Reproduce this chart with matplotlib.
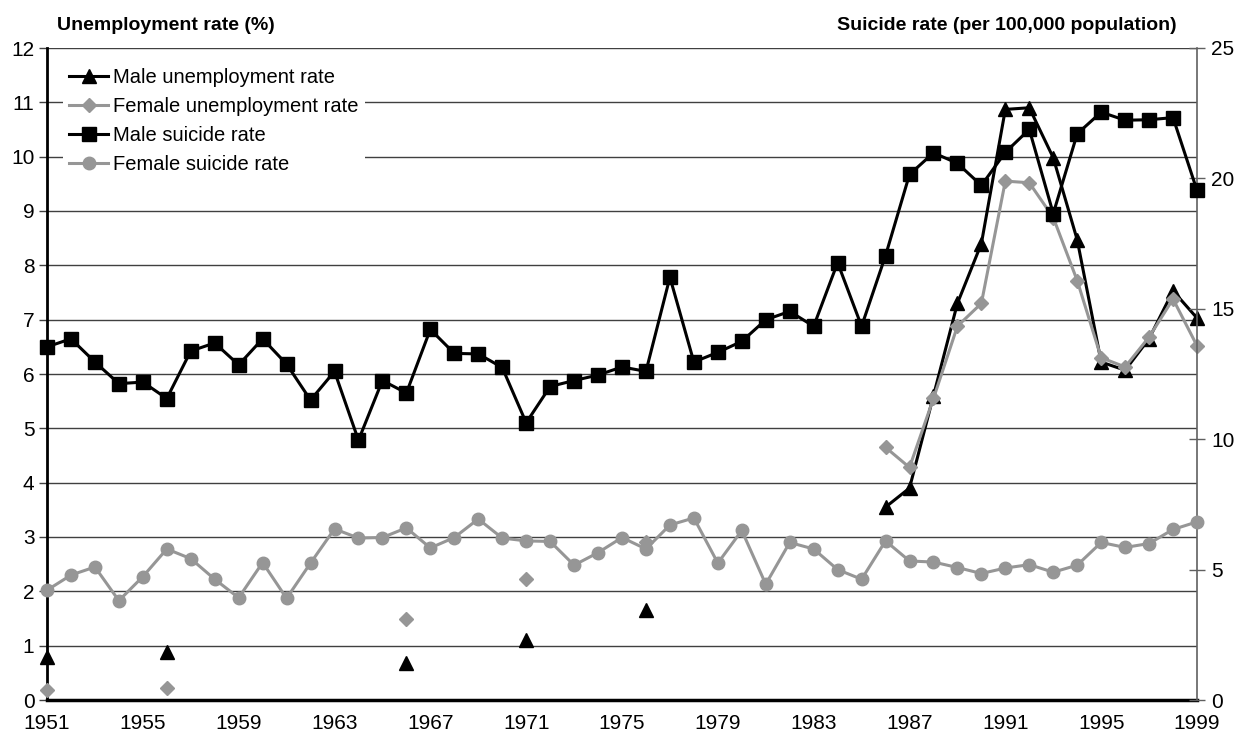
import numpy as np
import matplotlib
matplotlib.use("Agg")
import matplotlib.pyplot as plt

plt.rcParams['font.family'] = ['Liberation Sans', 'DejaVu Sans']
plt.rcParams['font.size'] = 14

nan = np.nan
years = np.arange(1951, 2000)

# unemployment rate (%), gaps where no figure was published
male_unemp = [0.8, nan, nan, nan, nan, 0.88, nan, nan, nan, nan,
              nan, nan, nan, nan, nan, 0.68, nan, nan, nan, nan,
              1.1, nan, nan, nan, nan, 1.65, nan, nan, nan, nan,
              nan, nan, nan, nan, nan, 3.55, 3.9, 5.6, 7.3, 8.4,
              10.87, 10.9, 9.98, 8.47, 6.22, 6.07, 6.65, 7.53, 7.03]
female_unemp = [0.18, nan, nan, nan, nan, 0.22, nan, nan, nan, nan,
                nan, nan, nan, nan, nan, 1.5, nan, nan, nan, nan,
                2.22, nan, nan, nan, nan, 2.91, nan, nan, nan, nan,
                nan, nan, nan, nan, nan, 4.65, 4.28, 5.55, 6.88, 7.3,
                9.55, 9.52, 8.88, 7.72, 6.3, 6.13, 6.68, 7.38, 6.52]

# suicide rate per 100,000
male_suicide = [13.54, 13.85, 12.96, 12.13, 12.19, 11.56, 13.38, 13.69, 12.85, 13.85,
                12.88, 11.5, 12.6, 9.96, 12.25, 11.77, 14.21, 13.29, 13.27, 12.75,
                10.63, 12.02, 12.25, 12.46, 12.77, 12.6, 16.21, 12.96, 13.33, 13.75,
                14.58, 14.9, 14.33, 16.77, 14.33, 17.04, 20.15, 20.98, 20.58, 19.73,
                21.0, 21.88, 18.65, 21.71, 22.54, 22.23, 22.25, 22.33, 19.54]
female_suicide = [4.21, 4.79, 5.1, 3.81, 4.73, 5.79, 5.42, 4.63, 3.92, 5.27,
                  3.9, 5.25, 6.56, 6.21, 6.23, 6.6, 5.83, 6.23, 6.94, 6.21,
                  6.1, 6.08, 5.17, 5.65, 6.23, 5.79, 6.71, 6.98, 5.25, 6.5,
                  4.44, 6.04, 5.79, 5.0, 4.63, 6.1, 5.33, 5.29, 5.08, 4.85,
                  5.06, 5.19, 4.9, 5.17, 6.04, 5.85, 6.0, 6.54, 6.83]

gray = '#969696'
W, H = 1235, 740

fig = plt.figure(figsize=(W / 100, H / 100), dpi=100)
ax = fig.add_axes([47 / W, 40 / H, 1150 / W, 652 / H])
ax2 = ax.twinx()

l1, = ax.plot(years, male_unemp, color='black', lw=2.2, marker='^', ms=10,
              label='Male unemployment rate', clip_on=False, zorder=3)
l2, = ax.plot(years, female_unemp, color=gray, lw=2.2, marker='D', ms=7,
              label='Female unemployment rate', clip_on=False, zorder=4)
l3, = ax2.plot(years, male_suicide, color='black', lw=2.2, marker='s', ms=9.5,
               label='Male suicide rate', clip_on=False, zorder=3)
l4, = ax2.plot(years, female_suicide, color=gray, lw=2.2, marker='o', ms=9,
               label='Female suicide rate', clip_on=False, zorder=3)

ax.set_xlim(1951, 1999)
ax.set_ylim(0, 12)
ax2.set_ylim(0, 25)
ax.set_yticks(range(0, 13))
ax2.set_yticks(range(0, 26, 5))
ax.set_xticks(range(1951, 2000, 4))

ax.grid(axis='y', color='#404040', lw=1.0)
ax.set_axisbelow(True)

for a in (ax, ax2):
    a.spines['top'].set_visible(False)
ax.spines['right'].set_visible(False)
ax2.spines['left'].set_visible(False)
ax2.spines['bottom'].set_visible(False)
ax.spines['left'].set_linewidth(2)
ax.spines['bottom'].set_linewidth(2.5)
ax2.spines['right'].set_color('#606060')
ax2.spines['right'].set_linewidth(1.2)

ax.tick_params(axis='y', direction='out', length=6, width=1, color='#404040', pad=3, labelsize=15)
ax.tick_params(axis='x', length=0, pad=10, labelsize=15)
ax2.tick_params(axis='y', direction='inout', length=12, width=1, color='#606060', pad=4, labelsize=15)

fig.text(57 / W, 1 - 25 / H, 'Unemployment rate (%)', fontsize=14, fontweight='bold',
         ha='left', va='center')
fig.text(1177 / W, 1 - 25 / H, 'Suicide rate (per 100,000 population)', fontsize=14,
         fontweight='bold', ha='right', va='center')

leg = ax2.legend(handles=[l1, l2, l3, l4], loc='upper left',
                 bbox_to_anchor=(63 / W, 1 - 62 / H), bbox_transform=fig.transFigure,
                 borderaxespad=0, borderpad=0.3, handlelength=1.95, handletextpad=0.25,
                 labelspacing=0.5, fontsize=14.5, frameon=True, fancybox=False,
                 edgecolor='none', facecolor='white', framealpha=1)
leg.set_zorder(10)

fig.savefig('out.png', dpi=100)
